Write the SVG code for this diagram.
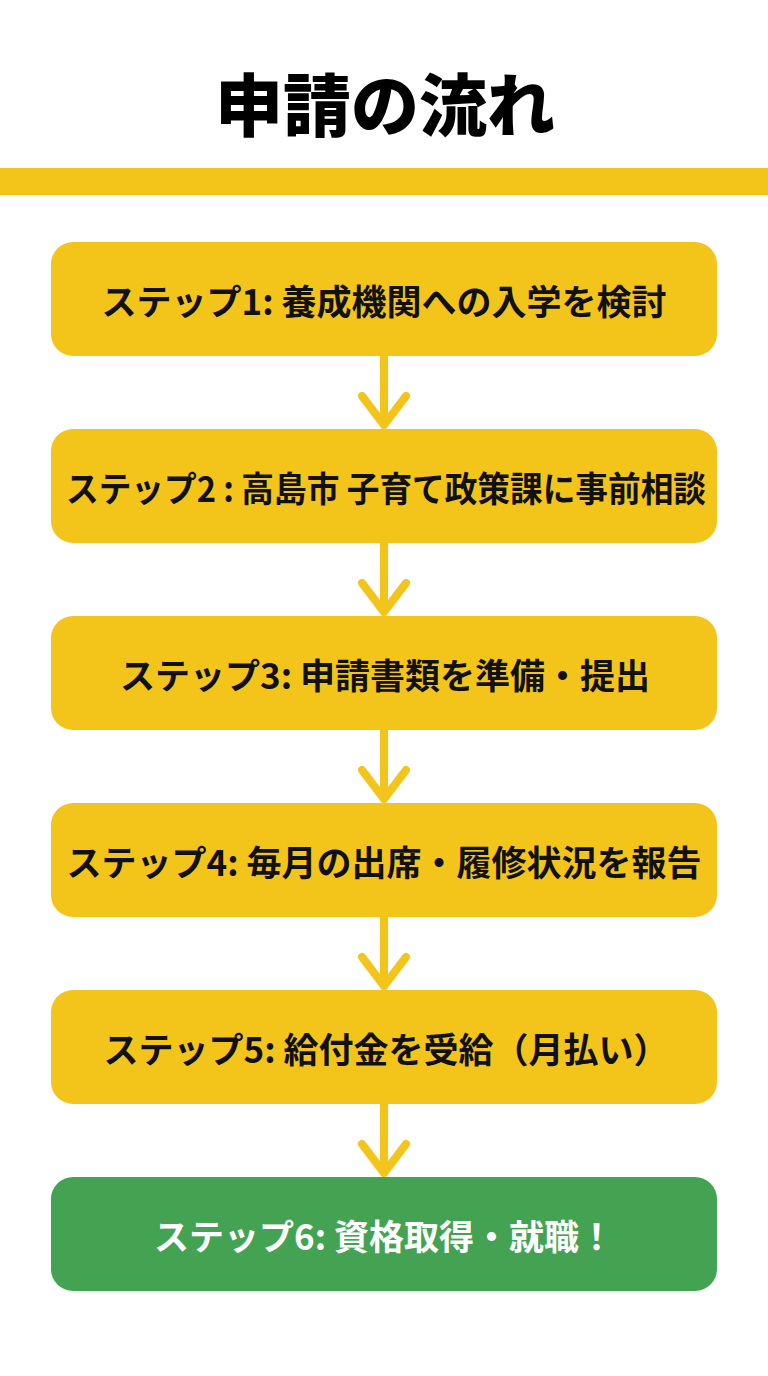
<svg xmlns="http://www.w3.org/2000/svg" width="768" height="1376" viewBox="0 0 768 1376">
<defs>
<style>
.box{fill:#F3C51B;}
.done{fill:#44A352;}
.t{font-family:"Noto Sans CJK JP","Noto Sans",sans-serif;font-weight:bold;font-size:35px;text-anchor:middle;dominant-baseline:central;fill:#111;}
.tw{fill:#fff;}
.title{font-family:"Noto Sans CJK JP","Noto Sans",sans-serif;font-weight:900;font-size:68px;text-anchor:middle;fill:#000;}
.c{stroke:#F3C51B;stroke-width:8;fill:none;stroke-linecap:round;stroke-linejoin:round;}
</style>
</defs>
<rect width="768" height="1376" fill="#fff"/>
<g id="title"><text class="title" x="385" y="131">申請の流れ</text></g>
<rect x="0" y="168" width="768" height="27" fill="#F3C51B"/>
<g id="connectors">
<path class="c" d="M384 356V425M362 396L384 425L406 396"/>
<path class="c" d="M384 543V612M362 583L384 612L406 583"/>
<path class="c" d="M384 730V799M362 770L384 799L406 770"/>
<path class="c" d="M384 917V986M362 957L384 986L406 957"/>
<path class="c" d="M384 1104V1173M362 1144L384 1173L406 1144"/>
</g>
<g id="step1"><rect class="box" x="51" y="242" width="666" height="114" rx="22"/><text class="t" x="384" y="299">ステップ1: 養成機関への入学を検討</text></g>
<g id="step2"><rect class="box" x="51" y="429" width="666" height="114" rx="22"/><text class="t" x="386" y="486" textLength="640" lengthAdjust="spacingAndGlyphs">ステップ2 : 高島市 子育て政策課に事前相談</text></g>
<g id="step3"><rect class="box" x="51" y="616" width="666" height="114" rx="22"/><text class="t" x="385" y="673">ステップ3: 申請書類を準備・提出</text></g>
<g id="step4"><rect class="box" x="51" y="803" width="666" height="114" rx="22"/><text class="t" x="384" y="860">ステップ4: 毎月の出席・履修状況を報告</text></g>
<g id="step5"><rect class="box" x="51" y="990" width="666" height="114" rx="22"/><text class="t" x="386" y="1047">ステップ5: 給付金を受給（月払い）</text></g>
<g id="step6"><rect class="done" x="51" y="1177" width="666" height="114" rx="22"/><text class="t tw" x="384" y="1234">ステップ6: 資格取得・就職！</text></g>
</svg>
